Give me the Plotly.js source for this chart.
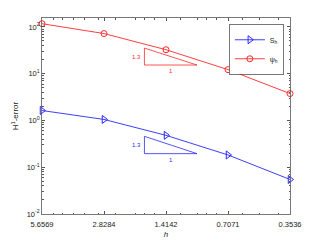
<!DOCTYPE html>
<html>
<head>
<meta charset="utf-8">
<script src="https://cdn.plot.ly/plotly-3.0.1.min.js"></script>
<style>html,body{margin:0;padding:0;background:#fff;}#chart{width:321px;height:241px;}</style>
</head>
<body>
<div id="chart"></div>
<script>
var h = [5.6569, 2.8284, 1.4142, 0.7071, 0.3536];
var hTickText = ['5.6569', '2.8284', '1.4142', '0.7071', '0.3536'];
var errS = [1.63, 1.05, 0.48, 0.183, 0.0547];
var errPsi = [117, 72, 32.5, 12.2, 3.75];
var seriesNames = ['S<sub>h</sub>', '\u03C8<sub>h</sub>'];
var yTickVals = [0.01, 0.1, 1, 10, 100];
var yTickText = ['10<sup>-2</sup>', '10<sup>-1</sup>', '10<sup>0</sup>', '10<sup>1</sup>', '10<sup>2</sup>'];
// slope triangles (order 1.3)
var triX = [1.8, 1.8, 1.0, 1.8];
var triPsiY = [35.2, 15.3, 15.3, 35.2];
var triSY = [0.457, 0.195, 0.195, 0.457];
var slopeLabel = '1.3';
var runLabel = '1';

var blue = 'rgb(40,40,255)';
var red = 'rgb(255,40,40)';
var gray = '#555';
var txt = '#222';

var xMinor = [5, 4.5, 4, 3.5, 3, 2.5, 2, 1.8, 1.6, 1.2, 1, 0.9, 0.8, 0.6, 0.5, 0.4];
var yMinor = [];
[0.01, 0.1, 1, 10, 100].forEach(function (d) { for (var k = 2; k <= 9; k++) yMinor.push(d * k); });

var traces = [
  {x: h, y: errS, name: seriesNames[0], mode: 'lines+markers', cliponaxis: false,
   line: {color: blue, width: 0.9}, marker: {symbol: 'triangle-right-open', size: 7, color: blue, line: {width: 1}}},
  {x: h, y: errPsi, name: seriesNames[1], mode: 'lines+markers', cliponaxis: false,
   line: {color: red, width: 0.9}, marker: {symbol: 'circle-open', size: 6, color: red, line: {width: 1}}},
  {x: triX, y: triPsiY, mode: 'lines', showlegend: false, hoverinfo: 'skip', line: {color: red, width: 0.8}},
  {x: triX, y: triSY, mode: 'lines', showlegend: false, hoverinfo: 'skip', line: {color: blue, width: 0.8}}
];

function lg(v) { return Math.log10(v); }
var midX = Math.sqrt(triX[0] * triX[2]);
var annotations = [
  {x: lg(triX[0]), y: lg(Math.sqrt(triPsiY[0] * triPsiY[1])), text: slopeLabel, xanchor: 'right', xshift: -1, showarrow: false, font: {size: 6, color: red}},
  {x: lg(midX), y: lg(triPsiY[1]), text: runLabel, yanchor: 'top', yshift: -1, showarrow: false, font: {size: 6, color: red}},
  {x: lg(triX[0]), y: lg(Math.sqrt(triSY[0] * triSY[1])), text: slopeLabel, xanchor: 'right', xshift: -1, showarrow: false, font: {size: 6, color: blue}},
  {x: lg(midX), y: lg(triSY[1]), text: runLabel, yanchor: 'top', yshift: -1, showarrow: false, font: {size: 6, color: blue}}
];

var layout = {
  width: 321, height: 241,
  margin: {l: 42, r: 31, t: 18, b: 27},
  paper_bgcolor: '#fff', plot_bgcolor: '#fff',
  font: {family: 'Liberation Sans, Arial, sans-serif', size: 7.5, color: txt},
  showlegend: true,
  legend: {x: 0.976, y: 0.967, xanchor: 'right', yanchor: 'top', bgcolor: '#fff', bordercolor: gray, borderwidth: 0.8,
           font: {size: 7, color: txt}, itemwidth: 30, tracegroupgap: 0},
  xaxis: {type: 'log', range: [lg(h[0]), lg(h[h.length - 1])], tickmode: 'array', tickvals: h, ticktext: hTickText,
          ticks: 'inside', ticklen: 3, tickcolor: gray, showline: true, linecolor: gray, linewidth: 0.8, mirror: 'ticks',
          showgrid: false, zeroline: false, tickfont: {size: 7.5, color: txt}, ticklabelstandoff: 3,
          minor: {tickmode: 'array', tickvals: xMinor, ticks: 'inside', ticklen: 1.5, tickcolor: gray, showgrid: false},
          title: {text: '<i>h</i>', font: {size: 8, color: txt}, standoff: 3}},
  yaxis: {type: 'log', range: [-2, 2.19], tickmode: 'array', tickvals: yTickVals, ticktext: yTickText,
          ticks: 'inside', ticklen: 3, tickcolor: gray, showline: true, linecolor: gray, linewidth: 0.8, mirror: 'ticks',
          showgrid: false, zeroline: false, tickfont: {size: 7.5, color: txt},
          minor: {tickmode: 'array', tickvals: yMinor, ticks: 'inside', ticklen: 1.5, tickcolor: gray, showgrid: false},
          title: {text: 'H<sup>1</sup>-error', font: {size: 8, color: txt}, standoff: 6}},
  annotations: annotations
};

Plotly.newPlot('chart', traces, layout, {staticPlot: true, displayModeBar: false});
</script>
</body>
</html>
